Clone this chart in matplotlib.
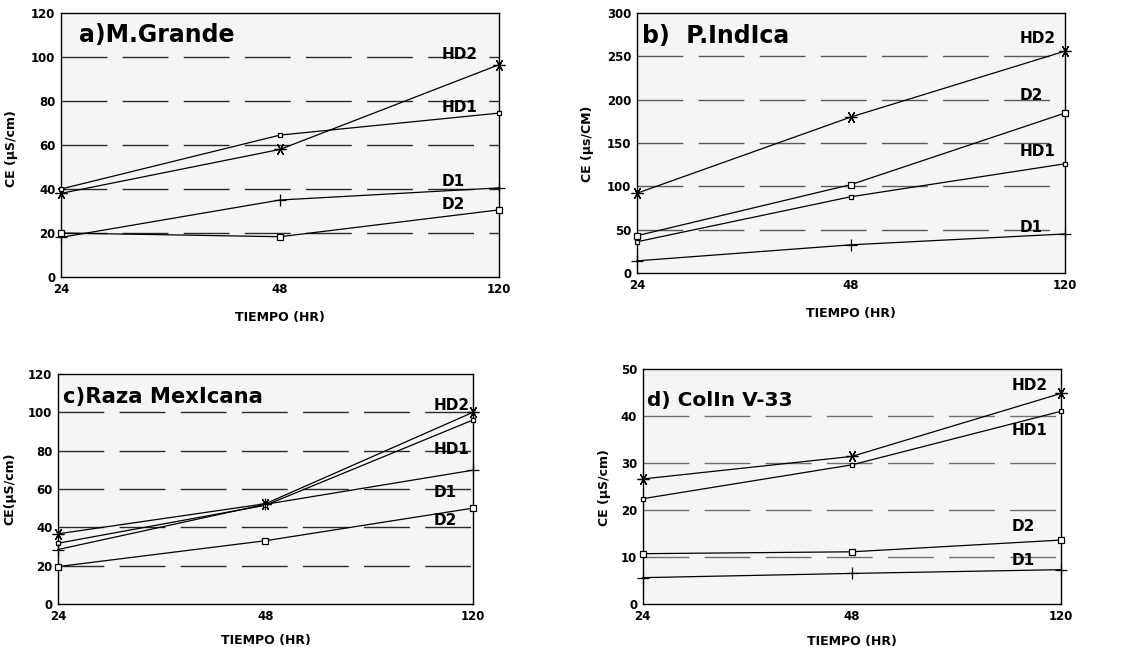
import numpy as np
import matplotlib
matplotlib.use('Agg')
import matplotlib.pyplot as plt

# x categories (hours)
tiempo = ['24', '48', '120']

# a) M.Grande
a_hd2 = [38, 58, 96.5]
a_hd1 = [40, 64.5, 74.5]
a_d1 = [18, 35, 40.5]
a_d2 = [20, 18.3, 30.5]

# b) P.Indica
b_hd2 = [92, 180, 256]
b_d2 = [43, 102, 184.5]
b_hd1 = [36, 88, 126]
b_d1 = [14, 32.5, 45]

# c) Raza Mexicana
c_hd2 = [36.6, 52.3, 100]
c_hd1 = [31.7, 51.5, 96]
c_d1 = [28.4, 52, 69.8]
c_d2 = [19.5, 33, 50]

# d) Colin V-33
d_hd2 = [26.6, 31.4, 44.8]
d_hd1 = [22.4, 29.6, 41]
d_d2 = [10.7, 11.1, 13.6]
d_d1 = [5.6, 6.5, 7.3]

markers = {'HD2': (6, 2, 90), 'HD1': 's', 'D1': '+', 'D2': 's'}
msizes = {'HD2': 8.5, 'HD1': 2.3, 'D1': 9, 'D2': 4.5}

panels = [
    dict(rect=[0.0541, 0.5719, 0.3883, 0.4080], title='a)M.Grande', tpos=(0.041, 0.89), tsize=17,
         ylabel='CE (\u03bcS/cm)', ylpos=(-0.099, 0.485), ymax=120, ystep=20, gcol='#2a2a2a',
         series={'HD2': a_hd2, 'HD1': a_hd1, 'D1': a_d1, 'D2': a_d2},
         lab={'HD2': 101, 'HD1': 77, 'D1': 43.6, 'D2': 33}, labx=0.87),
    dict(rect=[0.5647, 0.5781, 0.3794, 0.4018], title='b)  P.IndIca', tpos=(0.012, 0.883), tsize=17,
         ylabel='CE (\u03bcs/CM)', ylpos=(-0.10, 0.495), ymax=300, ystep=50, gcol='#5a5a5a',
         series={'HD2': b_hd2, 'D2': b_d2, 'HD1': b_hd1, 'D1': b_d1},
         lab={'HD2': 271, 'D2': 204.7, 'HD1': 140.4, 'D1': 52}, labx=0.895),
    dict(rect=[0.0514, 0.0665, 0.3679, 0.3555], title='c)Raza MexIcana', tpos=(0.012, 0.874), tsize=15.2,
         ylabel='CE(\u03bcS/cm)', ylpos=(-0.0995, 0.5), ymax=120, ystep=20, gcol='#2a2a2a',
         series={'HD2': c_hd2, 'HD1': c_hd1, 'D1': c_d1, 'D2': c_d2},
         lab={'HD2': 103.4, 'HD1': 80.8, 'D1': 58, 'D2': 43.4}, labx=0.904),
    dict(rect=[0.5698, 0.0665, 0.3708, 0.3632], title='d) ColIn V-33', tpos=(0.01, 0.842), tsize=14.5,
         ylabel='CE (\u03bcS/cm)', ylpos=(-0.077, 0.495), ymax=50, ystep=10, gcol='#707070',
         series={'HD2': d_hd2, 'HD1': d_hd1, 'D2': d_d2, 'D1': d_d1},
         lab={'HD2': 46.4, 'HD1': 37, 'D2': 16.4, 'D1': 9.2}, labx=0.883),
]


def main():
    plt.rcParams['font.family'] = ['DejaVu Sans']
    fig = plt.figure(figsize=(11.28, 6.47), dpi=100)

    x = np.arange(len(tiempo))
    for p in panels:
        ax = fig.add_axes(p['rect'])
        ax.set_facecolor('#f5f5f5')
        ax.set_xlim(0, len(tiempo) - 1)
        ax.set_ylim(0, p['ymax'])
        yt = np.arange(0, p['ymax'] + 1, p['ystep'])
        for v in yt[1:-1]:
            ax.axhline(v, color=p['gcol'], lw=1.0, dashes=(33, 11), zorder=1)

        for name, vals in p['series'].items():
            ax.plot(x, vals, color='black', lw=0.9, marker=markers[name],
                    markersize=msizes[name], markerfacecolor='white',
                    markeredgecolor='black', markeredgewidth=0.9,
                    clip_on=False, zorder=3)
            ax.text(p['labx'], p['lab'][name], name, transform=ax.get_yaxis_transform(),
                    fontsize=11, fontweight='bold', ha='left', va='center', zorder=4)

        ax.text(p['tpos'][0], p['tpos'][1], p['title'], transform=ax.transAxes,
                fontsize=p['tsize'], fontweight='bold', ha='left', va='baseline')

        ax.set_xticks(x)
        ax.set_xticklabels(tiempo)
        ax.set_yticks(yt)
        ax.tick_params(length=0, pad=4, labelsize=8.5)
        for t in ax.get_xticklabels() + ax.get_yticklabels():
            t.set_fontweight('bold')
        for s in ax.spines.values():
            s.set_linewidth(1.0)
            s.set_color('black')

        ax.set_xlabel('TIEMPO (HR)', fontsize=9, fontweight='bold')
        ax.xaxis.set_label_coords(0.5, -0.13)
        ax.set_ylabel(p['ylabel'], fontsize=9, fontweight='bold')
        ax.yaxis.set_label_coords(p['ylpos'][0], p['ylpos'][1])

    plt.savefig('out.png', dpi=100)
    plt.close()


if __name__ == '__main__':
    main()
